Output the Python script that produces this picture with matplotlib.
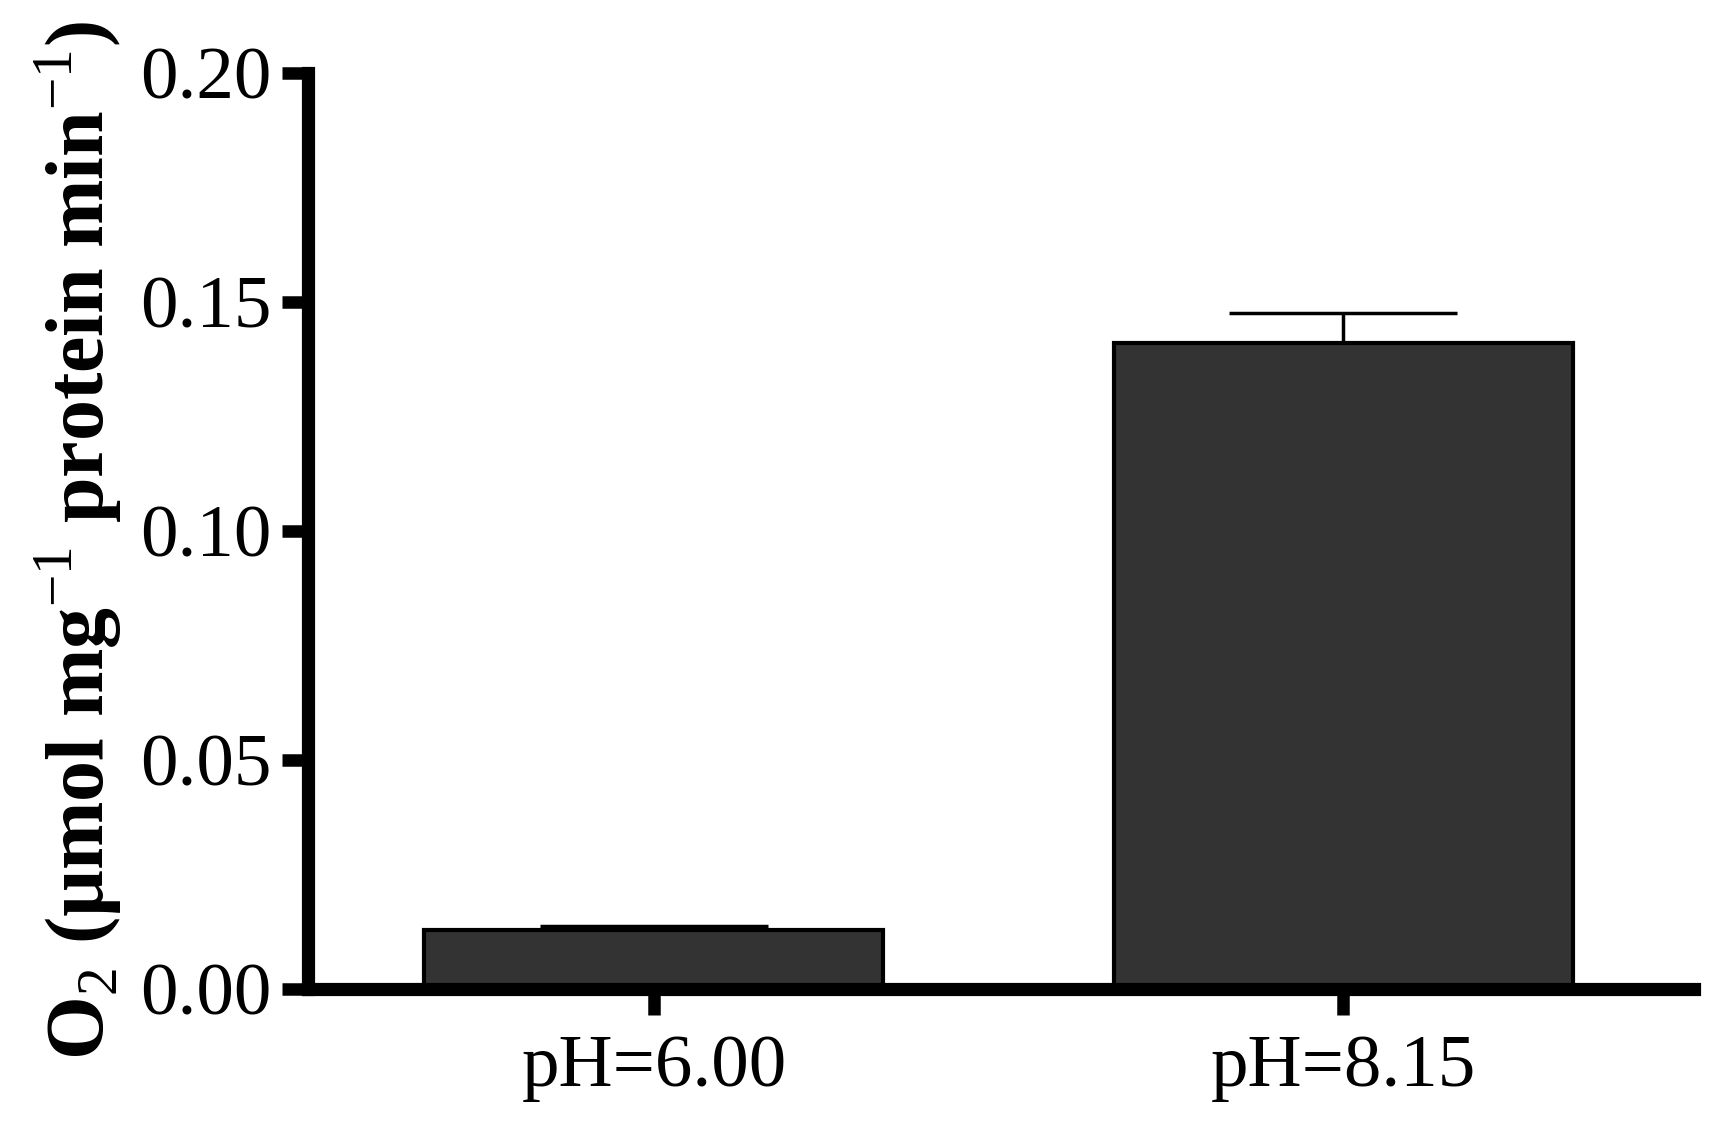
"""
O2 evolution at two pH values
=============================
Bar chart with upward error bars.
"""

import matplotlib
matplotlib.use('Agg')
import numpy as np
from matplotlib import pyplot as plt

# %%
# Data
# -------------------------
categories = ['pH=6.00', 'pH=8.15']
rates = [0.0129, 0.1411]
errors = [0.0008, 0.0064]
y_ticks = [0.00, 0.05, 0.10, 0.15, 0.20]


def main():
    plt.rcParams['font.family'] = ['Liberation Serif', 'DejaVu Serif']
    plt.rcParams['mathtext.fontset'] = 'custom'
    plt.rcParams['mathtext.rm'] = 'Liberation Serif'
    plt.rcParams['mathtext.bf'] = 'Liberation Serif:bold'

    fig = plt.figure(figsize=(17.14, 11.23), dpi=100)
    ax = fig.add_axes([0.1797, 0.1193, 0.8086, 0.8157])

    x = np.arange(len(categories))
    ax.bar(x, rates, width=0.666, color='#333333', edgecolor='black',
           linewidth=3, zorder=2)
    ax.errorbar(x, rates, yerr=[np.zeros(len(errors)), errors], fmt='none',
                ecolor='black', elinewidth=2.5, capsize=82, capthick=2.5,
                zorder=1)

    ax.set_xlim(-0.502, 1.509)
    ax.set_ylim(0, 0.20)
    ax.set_xticks(x)
    ax.set_xticklabels(categories)
    ax.set_yticks(y_ticks)
    ax.set_yticklabels([f'{v:.2f}' for v in y_ticks])

    for side in ('top', 'right'):
        ax.spines[side].set_visible(False)
    for side in ('left', 'bottom'):
        ax.spines[side].set_linewidth(9.5)
        ax.spines[side].set_capstyle('projecting')
    ax.spines['bottom'].set_zorder(3)

    ax.tick_params(axis='both', direction='out', length=19, width=9,
                   labelsize=54, color='black')
    ax.tick_params(axis='y', pad=7)
    ax.tick_params(axis='x', pad=14)

    ax.set_ylabel(r'O$_{\mathrm{2}}$ (µmol mg$^{\mathrm{-1}}$ protein min$^{\mathrm{-1}}$)',
                  fontsize=59, fontweight='bold')
    ax.yaxis.set_label_coords(-0.133, 0.49)

    fig.savefig('out.png', dpi=100)


if __name__ == '__main__':
    main()
